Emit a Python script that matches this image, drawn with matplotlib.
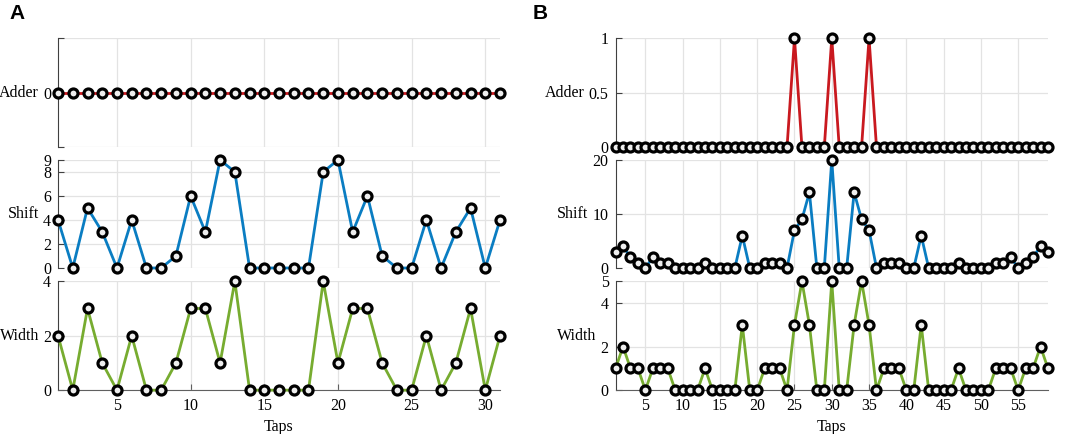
import numpy as np
import matplotlib.pyplot as plt

plt.rcParams['font.family'] = 'Liberation Serif'
plt.rcParams['font.size'] = 11.5

# panel A: 31 taps
taps_a = np.arange(1, 32)
adder_a = [0] * 31
shift_a = [4, 0, 5, 3, 0, 4, 0, 0, 1, 6, 3, 9, 8, 0, 0, 0, 0, 0, 8, 9,
           3, 6, 1, 0, 0, 4, 0, 3, 5, 0, 4]
width_a = [2, 0, 3, 1, 0, 2, 0, 0, 1, 3, 3, 1, 4, 0, 0, 0, 0, 0, 4, 1,
           3, 3, 1, 0, 0, 2, 0, 1, 3, 0, 2]

# panel B: 59 taps
taps_b = np.arange(1, 60)
adder_b = [0] * 24 + [1, 0, 0, 0, 0, 1, 0, 0, 0, 0, 1] + [0] * 24
shift_b = [3, 4, 2, 1, 0, 2, 1, 1, 0, 0, 0, 0, 1, 0, 0, 0, 0, 6, 0, 0,
           1, 1, 1, 0, 7, 9, 14, 0, 0, 20, 0, 0, 14, 9, 7, 0, 1, 1, 1, 0,
           0, 6, 0, 0, 0, 0, 1, 0, 0, 0, 0, 1, 1, 2, 0, 1, 2, 4, 3]
width_b = [1, 2, 1, 1, 0, 1, 1, 1, 0, 0, 0, 0, 1, 0, 0, 0, 0, 3, 0, 0,
           1, 1, 1, 0, 3, 5, 3, 0, 0, 5, 0, 0, 3, 5, 3, 0, 1, 1, 1, 0,
           0, 3, 0, 0, 0, 0, 1, 0, 0, 0, 0, 1, 1, 1, 0, 1, 1, 2, 1]

red = '#C9191F'
blue = '#0A7DC2'
green = '#77AC30'

fig = plt.figure(figsize=(10.65, 4.34), dpi=100)

rows = [(0.661, 0.251), (0.3825, 0.249), (0.101, 0.251)]
cols = [(0.0545, 0.415), (0.578, 0.406)]


def panel(pos, x, y, color, ylim, yticks, yticklabels, label, xticks, bottom):
    ax = fig.add_axes(pos)
    ax.plot(x, y, color=color, lw=2.0, marker='o', ms=6.5, mfc='#eeeeee',
            mec='black', mew=2.3, clip_on=False, zorder=3)
    ax.set_xlim(x[0], x[-1])
    ax.set_ylim(*ylim)
    ax.set_yticks(yticks)
    ax.set_yticklabels(yticklabels)
    ax.set_xticks(xticks)
    ax.grid(True, color='#e3e3e3', lw=0.9)
    ax.set_axisbelow(True)
    for s in ['top', 'right']:
        ax.spines[s].set_visible(False)
    ax.spines['left'].set_color('#404040')
    ax.tick_params(axis='y', direction='in', length=4, color='#404040', pad=5)
    ax.tick_params(axis='x', direction='in', length=4, color='#606060', pad=6)
    if bottom:
        ax.spines['bottom'].set_color('#606060')
        ax.set_xlabel('Taps', labelpad=3)
    else:
        ax.spines['bottom'].set_visible(False)
        ax.tick_params(axis='x', length=0, labelbottom=False)
    ax.set_ylabel(label, rotation=0, ha='right', va='center', labelpad=3)
    return ax


xt_a = [5, 10, 15, 20, 25, 30]
xt_b = list(range(5, 60, 5))

(l, w) = cols[0]
panel([l, rows[0][0], w, rows[0][1]], taps_a, adder_a, red, (-1, 1),
      [-1, 0, 1], ['', '0', ''], 'Adder', xt_a, False)
panel([l, rows[1][0], w, rows[1][1]], taps_a, shift_a, blue, (0, 9),
      [0, 2, 4, 6, 8, 9], ['0', '2', '4', '6', '8', '9'], 'Shift', xt_a, False)
panel([l, rows[2][0], w, rows[2][1]], taps_a, width_a, green, (0, 4),
      [0, 2, 4], ['0', '2', '4'], 'Width', xt_a, True)

(l, w) = cols[1]
panel([l, rows[0][0], w, rows[0][1]], taps_b, adder_b, red, (0, 1),
      [0, 0.5, 1], ['0', '0.5', '1'], 'Adder', xt_b, False)
panel([l, rows[1][0], w, rows[1][1]], taps_b, shift_b, blue, (0, 20),
      [0, 10, 20], ['0', '10', '20'], 'Shift', xt_b, False)
panel([l, rows[2][0], w, rows[2][1]], taps_b, width_b, green, (0, 5),
      [0, 2, 4, 5], ['0', '2', '4', '5'], 'Width', xt_b, True)

fig.text(0.009, 0.99, 'A', family='Liberation Sans', weight='bold',
         fontsize=15, va='top')
fig.text(0.5, 0.99, 'B', family='Liberation Sans', weight='bold',
         fontsize=15, va='top')

fig.savefig('out.png', dpi=100)
